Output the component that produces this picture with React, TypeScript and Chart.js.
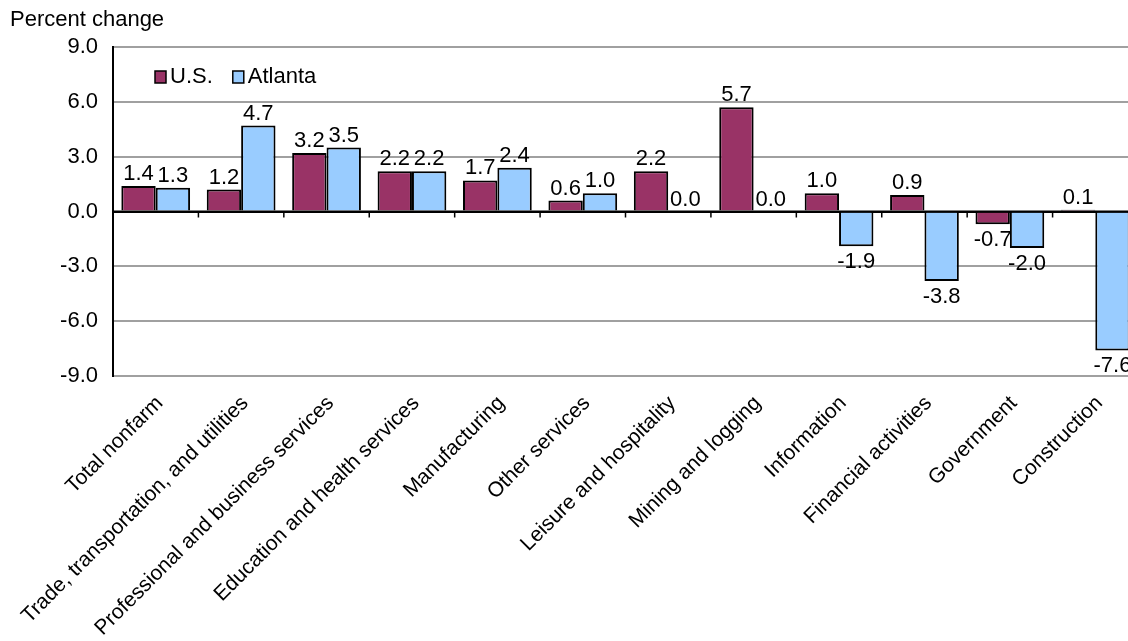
import React, { useEffect, useRef } from 'react';
import { Chart, registerables } from 'chart.js';

Chart.register(...registerables);

const categories = [
  'Total nonfarm',
  'Trade, transportation, and utilities',
  'Professional and business services',
  'Education and health services',
  'Manufacturing',
  'Other services',
  'Leisure and hospitality',
  'Mining and logging',
  'Information',
  'Financial activities',
  'Government',
  'Construction',
];
const usValues = [1.4, 1.2, 3.2, 2.2, 1.7, 0.6, 2.2, 5.7, 1.0, 0.9, -0.7, 0.1];
const atlantaValues = [1.3, 4.7, 3.5, 2.2, 2.4, 1.0, 0.0, 0.0, -1.9, -3.8, -2.0, -7.6];
const seriesNames = ['U.S.', 'Atlanta'];
const seriesColors = ['#993366', '#99CCFF'];
const yMin = -9;
const yMax = 9;
const yStep = 3;
const yAxisTitle = 'Percent change';

const FONT = 'Liberation Sans, Arial, Helvetica, sans-serif';
const FS = 22;

const overlayPlugin = {
  id: 'overlay',
  afterDatasetsDraw(chart: any) {
    const ctx = chart.ctx;
    const xs = chart.scales.x;
    const ys = chart.scales.y;
    const area = chart.chartArea;
    const y0 = ys.getPixelForValue(0);
    ctx.save();
    // zero line
    ctx.strokeStyle = '#000';
    ctx.lineWidth = 2;
    ctx.beginPath();
    ctx.moveTo(area.left, y0);
    ctx.lineTo(area.right, y0);
    ctx.stroke();
    // category boundary ticks
    ctx.lineWidth = 1.5;
    for (let i = 1; i < categories.length; i++) {
      const x = (xs.getPixelForValue(i - 1) + xs.getPixelForValue(i)) / 2;
      ctx.beginPath();
      ctx.moveTo(x, y0);
      ctx.lineTo(x, y0 + 6);
      ctx.stroke();
    }
    // value labels
    ctx.font = `${FS}px ${FONT}`;
    ctx.fillStyle = '#000';
    ctx.textAlign = 'center';
    chart.data.datasets.forEach((ds: any, di: number) => {
      const meta = chart.getDatasetMeta(di);
      meta.data.forEach((el: any, i: number) => {
        const v = ds.data[i];
        const txt = v.toFixed(1);
        if (v < 0) {
          ctx.textBaseline = 'top';
          ctx.fillText(txt, el.x, el.y + 5);
        } else {
          ctx.textBaseline = 'bottom';
          ctx.fillText(txt, el.x, el.y - 1);
        }
      });
    });
    ctx.restore();
  },
  afterDraw(chart: any) {
    const ctx = chart.ctx;
    const area = chart.chartArea;
    ctx.save();
    ctx.font = `${FS}px ${FONT}`;
    ctx.fillStyle = '#000';
    ctx.textAlign = 'left';
    ctx.textBaseline = 'middle';
    ctx.fillText(yAxisTitle, 10, 20);
    // legend
    let x = area.left + 42;
    const y = 77;
    seriesNames.forEach((name, i) => {
      ctx.fillStyle = seriesColors[i];
      ctx.fillRect(x, y - 6, 11, 12);
      ctx.strokeStyle = '#000';
      ctx.lineWidth = 1.5;
      ctx.strokeRect(x, y - 6, 11, 12);
      ctx.fillStyle = '#000';
      ctx.fillText(name, x + 15, y);
      x += 15 + ctx.measureText(name).width + 20;
    });
    ctx.restore();
  },
};

export default function App() {
  const canvasRef = useRef<HTMLCanvasElement | null>(null);

  useEffect(() => {
    document.body.style.margin = '0';
    document.body.style.overflow = 'hidden';
    const canvas = canvasRef.current;
    if (!canvas) return;
    const chart = new Chart(canvas, {
      type: 'bar',
      data: {
        labels: categories,
        datasets: [
          {
            label: seriesNames[0],
            data: usValues,
            backgroundColor: seriesColors[0],
            borderColor: '#000',
            borderWidth: 2,
            categoryPercentage: 0.805,
            barPercentage: 1.0,
          },
          {
            label: seriesNames[1],
            data: atlantaValues,
            backgroundColor: seriesColors[1],
            borderColor: '#000',
            borderWidth: 2,
            categoryPercentage: 0.805,
            barPercentage: 1.0,
          },
        ],
      },
      options: {
        animation: false,
        responsive: true,
        maintainAspectRatio: false,
        layout: { padding: { top: 47, left: 0, right: 0, bottom: 0 } },
        plugins: {
          legend: { display: false },
          title: { display: false },
          tooltip: { enabled: false },
        },
        scales: {
          x: {
            grid: { display: false },
            border: { display: false },
            ticks: {
              autoSkip: false,
              maxRotation: 45,
              minRotation: 45,
              padding: 7,
              labelOffset: 4,
              color: '#000',
              font: { family: FONT, size: 21 },
            },
            afterFit: (scale: any) => {
              scale.height = 265;
            },
          },
          y: {
            min: yMin,
            max: yMax,
            ticks: {
              stepSize: yStep,
              padding: 15,
              color: '#000',
              font: { family: FONT, size: FS },
              callback: (v: any) => Number(v).toFixed(1),
            },
            grid: {
              drawTicks: false,
              color: (c: any) => (c.tick && c.tick.value === 0 ? '#000' : '#a0a0a0'),
              lineWidth: 2,
            },
            border: { display: true, color: '#000', width: 2 },
            afterFit: (scale: any) => {
              scale.width = 113;
            },
          },
        },
      },
      plugins: [overlayPlugin],
    });
    return () => chart.destroy();
  }, []);

  return (
    <div style={{ width: 1128, height: 641, overflow: 'hidden', position: 'relative', background: '#fff' }}>
      <div style={{ width: 1138, height: 641, position: 'absolute', left: 0, top: 0 }}>
        <canvas ref={canvasRef} />
      </div>
    </div>
  );
}
